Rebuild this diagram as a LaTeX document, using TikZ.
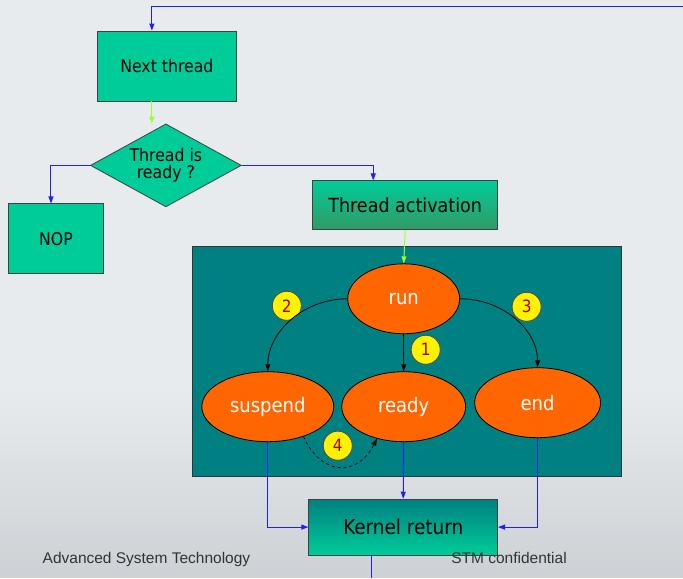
\documentclass[tikz,border=0pt]{standalone}
\usepackage{fontspec}
\setmainfont{DejaVu Sans Condensed}
\newfontfamily\footfont{Liberation Sans}
\usetikzlibrary{shapes.geometric,arrows.meta}
\definecolor{bglight}{HTML}{E7EBEE}
\definecolor{bgdark}{HTML}{CDD1D5}
\definecolor{stgreen}{HTML}{00CC99}
\definecolor{stdark}{HTML}{339966}
\definecolor{stteal}{HTML}{008080}
\definecolor{storange}{HTML}{FF6600}
\definecolor{stblue}{HTML}{2020F0}
\definecolor{stlime}{HTML}{99FF33}
\definecolor{stred}{HTML}{A00000}
\newcommand{\fs}[1]{\fontsize{#1}{#1}\selectfont}
\begin{document}
\begin{tikzpicture}
    [x=1pt,y=-1pt,line width=0.8pt,
     box/.style={draw=black!75,fill=stgreen,inner sep=0pt,font=\fs{17.5}},
     test/.style={diamond,draw=black!75,fill=stgreen,aspect=1.8,inner sep=0pt,
       minimum width=151pt,minimum height=83pt,align=center,font=\fs{17.5}},
     state/.style={ellipse,draw=black,fill=storange,text=white,inner sep=0pt,
       minimum height=70pt,font=\fs{20}},
     badge/.style={circle,draw=black!70,fill=yellow,text=stred,inner sep=0pt,
       minimum size=29pt,font=\fs{17}},
     flow/.style={stblue,line width=1pt,-{Triangle[length=7pt,width=5pt]}},
     go/.style={stlime,line width=1pt,-{Triangle[length=7pt,width=5pt]}},
     move/.style={black,-{Triangle[length=7pt,width=5pt]}},
     foot/.style={anchor=base west,text=black!80,font=\footfont\fs{15.5}}]
    % background
    \fill[bglight] (0,0) rectangle (683,578);
    \shade[top color=bglight,bottom color=bgdark] (0,390) rectangle (683,578);
    % flow chart
    \node[box,minimum width=140pt,minimum height=70pt] (next) at (167,66) {Next thread};
    \node[test] (test) at (166,165.5) {Thread is\\ready ?};
    \node[box,minimum width=95pt,minimum height=70pt] (nop) at (56,239) {NOP};
    \node[box,top color=stgreen,bottom color=stdark,minimum width=185pt,
      minimum height=49pt,font=\fs{19.5}] (act) at (405.5,205.5) {Thread activation};
    % thread states
    \node[draw=black!80,fill=stteal,minimum width=429pt,minimum height=230pt]
      (panel) at (407.5,362) {};
    \node[state,minimum width=112pt] (run) at (404,299) {run};
    \node[state,minimum width=132pt] (suspend) at (268,407) {suspend};
    \node[state,minimum width=124pt] (ready) at (404,407) {ready};
    \node[state,minimum width=126pt] (end) at (538,403) {end};
    \node[badge] (b1) at (426,350) {1};
    \node[badge] (b2) at (287,306) {2};
    \node[badge] (b3) at (527,307) {3};
    \node[badge] (b4) at (338,446) {4};
    \node[box,top color=stteal,bottom color=stgreen,minimum width=189pt,
      minimum height=56pt,font=\fs{20.5}] (kret) at (403.5,527.5) {Kernel return};
    % footer
    \node[foot] (team) at (39,564) {Advanced System Technology};
    \node[foot] (conf) at (448,564) {STM confidential};
    % connectors
    \coordinate (loop) at (683,7);
    \coordinate (exit) at (372,578);
    \draw[flow] (loop) -| ([xshift=-15pt]next.north);
    \draw[go] ([xshift=-15pt]next.south) -- ([xshift=-14pt]test.north);
    \draw[flow] (test.west) -| ([xshift=-5pt]nop.north);
    \draw[flow] (test.east) -| ([xshift=-32pt]act.north);
    \draw[go] (act.south) -- (run.north);
    \draw[move] (run.south) -- (ready.north);
    \draw[move] (run.west) .. controls (304,299) and (268,332) .. (suspend.north);
    \draw[move] (run.east) .. controls (503,299) and (538,330) .. (end.north);
    \draw[move,dashed] (suspend.-40) .. controls (322,477) and (358,477) .. (ready.-130);
    \draw[flow] (suspend.south) |- (kret.west);
    \draw[flow] (ready.south) -- (kret.north);
    \draw[flow] (end.south) |- (kret.east);
    \draw[stblue,line width=1pt] ([xshift=-31.5pt]kret.south) -- (exit);
\end{tikzpicture}
\end{document}
